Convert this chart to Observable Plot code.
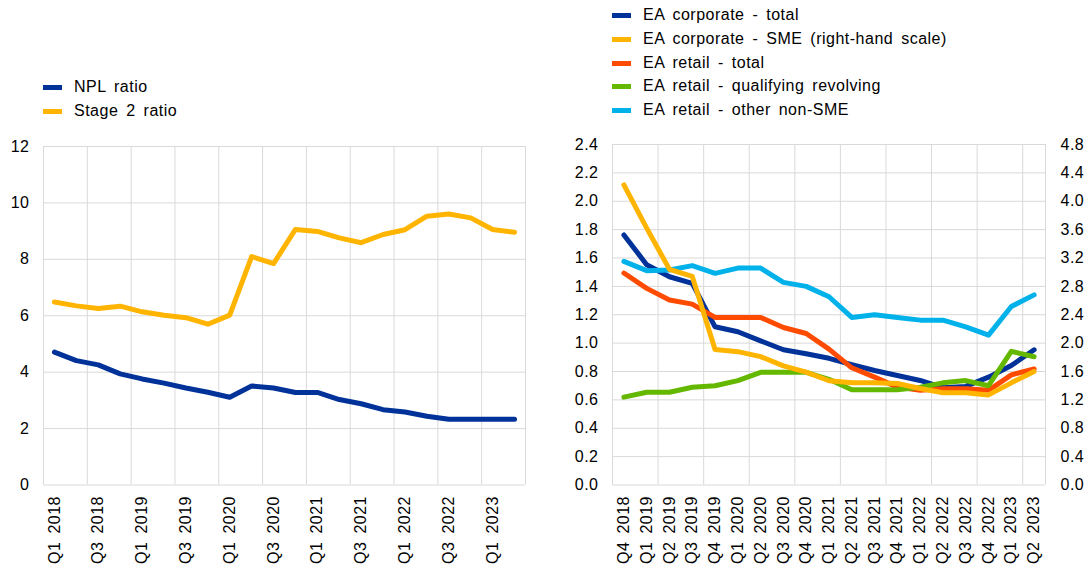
<!DOCTYPE html>
<html>
<head>
<meta charset="utf-8">
<script src="https://cdn.jsdelivr.net/npm/d3@7"></script>
<script src="https://cdn.jsdelivr.net/npm/@observablehq/plot@0.6"></script>
<style>
  html, body { margin: 0; padding: 0; background: #fff; }
  #root { position: relative; width: 1089px; height: 567px; overflow: hidden; font-family: "Liberation Sans", Arial, sans-serif; }
  .panel { position: absolute; top: 0; }
  .legend { position: absolute; font-size: 16px; letter-spacing: 0.5px; word-spacing: 3px; color: #000; }
  .legend .row { position: absolute; left: 0; white-space: nowrap; height: 20px; line-height: 20px; }
  .legend .sw { position: absolute; left: 0; top: 8px; width: 19px; height: 5px; }
  .legend .tx { position: absolute; left: 31px; top: 0; }
</style>
</head>
<body>
<div id="root">
  <div id="left" class="panel" style="left:0px"></div>
  <div id="right" class="panel" style="left:545px"></div>
  <div id="legL" class="legend" style="left:43px; top:77px"></div>
  <div id="legR" class="legend" style="left:612px; top:5px"></div>
</div>
<script>
// ---------- Left panel data ----------
const leftLabels = ["Q1 2018","Q2 2018","Q3 2018","Q4 2018","Q1 2019","Q2 2019","Q3 2019","Q4 2019",
  "Q1 2020","Q2 2020","Q3 2020","Q4 2020","Q1 2021","Q2 2021","Q3 2021","Q4 2021",
  "Q1 2022","Q2 2022","Q3 2022","Q4 2022","Q1 2023","Q2 2023"];
const nplRatio = [4.71,4.41,4.26,3.94,3.76,3.61,3.44,3.29,3.11,3.51,3.44,3.28,3.28,3.03,2.88,2.67,2.59,2.44,2.33,2.33,2.33,2.33];
const stage2Ratio = [6.49,6.35,6.26,6.34,6.14,6.02,5.93,5.70,6.02,8.10,7.85,9.06,8.99,8.76,8.59,8.88,9.05,9.53,9.61,9.47,9.06,8.96];
const leftYTicks = [0,2,4,6,8,10,12];
const leftXTickIdx = [0,2,4,6,8,10,12,14,16,18,20];

// ---------- Right panel data ----------
const rightLabels = ["Q4 2018","Q1 2019","Q2 2019","Q3 2019","Q4 2019","Q1 2020","Q2 2020","Q3 2020","Q4 2020",
  "Q1 2021","Q2 2021","Q3 2021","Q4 2021","Q1 2022","Q2 2022","Q3 2022","Q4 2022","Q1 2023","Q2 2023"];
const corporateTotal = [1.762,1.553,1.468,1.421,1.115,1.080,1.016,0.953,0.925,0.893,0.849,0.807,0.772,0.737,0.686,0.695,0.760,0.842,0.953];
const corporateSME = [4.23,3.62,3.04,2.94,1.91,1.88,1.81,1.68,1.59,1.47,1.44,1.44,1.43,1.36,1.30,1.30,1.27,1.44,1.60]; // right-hand scale
const retailTotal = [1.494,1.386,1.304,1.275,1.181,1.181,1.181,1.110,1.068,0.958,0.826,0.760,0.690,0.667,0.678,0.678,0.667,0.776,0.818];
const retailQRRE = [0.619,0.654,0.654,0.689,0.700,0.736,0.794,0.794,0.794,0.745,0.671,0.671,0.671,0.689,0.720,0.736,0.700,0.942,0.904];
const retailOtherNonSME = [1.576,1.511,1.515,1.546,1.492,1.529,1.529,1.428,1.400,1.327,1.181,1.200,1.181,1.162,1.162,1.115,1.056,1.258,1.340];
const rightYTicks = [0,0.2,0.4,0.6,0.8,1.0,1.2,1.4,1.6,1.8,2.0,2.2,2.4];
const rightAxisRatio = 2; // right-hand scale = 2 x left-hand scale

const colors = {
  blue: "#003299", yellow: "#FFB400", orange: "#FF4B00", green: "#65B800", cyan: "#00B1EA"
};

const baseStyle = {
  fontFamily: '"Liberation Sans", Arial, sans-serif',
  fontSize: "16px",
  letterSpacing: "0.5px",
  wordSpacing: "3px",
  color: "#000",
  background: "transparent",
  overflow: "visible"
};
const grid = "#d9d9d9";
const lineOpts = {strokeWidth: 5, strokeLinejoin: "round", strokeLinecap: "round"};

// gridline positions at category boundaries (every 2 categories)
const leftGridX = d3.range(-0.5, leftLabels.length, 2);
const rightGridX = d3.range(-0.5, rightLabels.length, 2).concat([rightLabels.length - 0.5]);

const leftChart = Plot.plot({
  width: 545, height: 567,
  marginLeft: 43, marginRight: 20, marginTop: 146, marginBottom: 82.5,
  x: {type: "linear", domain: [-0.5, leftLabels.length - 0.5]},
  y: {domain: [0, 12]},
  style: baseStyle,
  marks: [
    Plot.ruleY(leftYTicks, {stroke: grid, strokeWidth: 1}),
    Plot.ruleX(leftGridX, {stroke: grid, strokeWidth: 1}),
    Plot.axisY({ticks: leftYTicks, tickSize: 0, tickPadding: 14, label: null}),
    Plot.axisX({ticks: leftXTickIdx, tickFormat: i => leftLabels[i], tickRotate: -90, tickSize: 0, tickPadding: 11, label: null}),
    Plot.line(stage2Ratio, {x: (d, i) => i, y: d => d, stroke: colors.yellow, ...lineOpts}),
    Plot.line(nplRatio, {x: (d, i) => i, y: d => d, stroke: colors.blue, ...lineOpts})
  ]
});
document.getElementById("left").appendChild(leftChart);

const rightChart = Plot.plot({
  width: 544, height: 567,
  marginLeft: 67, marginRight: 44, marginTop: 144, marginBottom: 82.5,
  x: {type: "linear", domain: [-0.5, rightLabels.length - 0.5]},
  y: {domain: [0, 2.4]},
  style: baseStyle,
  marks: [
    Plot.ruleY(rightYTicks, {stroke: grid, strokeWidth: 1}),
    Plot.ruleX(rightGridX, {stroke: grid, strokeWidth: 1}),
    Plot.axisY({ticks: rightYTicks, tickSize: 0, tickPadding: 14, tickFormat: d => d.toFixed(1), label: null}),
    Plot.axisY({anchor: "right", ticks: rightYTicks, tickSize: 0, tickPadding: 15, tickFormat: d => (d * rightAxisRatio).toFixed(1), label: null}),
    Plot.axisX({ticks: d3.range(rightLabels.length), tickFormat: i => rightLabels[i], tickRotate: -90, tickSize: 0, tickPadding: 11, label: null}),
    Plot.line(corporateTotal, {x: (d, i) => i, y: d => d, stroke: colors.blue, ...lineOpts}),
    Plot.line(retailTotal, {x: (d, i) => i, y: d => d, stroke: colors.orange, ...lineOpts}),
    Plot.line(retailQRRE, {x: (d, i) => i, y: d => d, stroke: colors.green, ...lineOpts}),
    Plot.line(retailOtherNonSME, {x: (d, i) => i, y: d => d, stroke: colors.cyan, ...lineOpts}),
    Plot.line(corporateSME, {x: (d, i) => i, y: d => d / rightAxisRatio, stroke: colors.yellow, ...lineOpts})
  ]
});
document.getElementById("right").appendChild(rightChart);

// ---------- Legends ----------
const leftLegend = [
  {label: "NPL ratio", color: colors.blue},
  {label: "Stage 2 ratio", color: colors.yellow}
];
const rightLegend = [
  {label: "EA corporate - total", color: colors.blue},
  {label: "EA corporate - SME (right-hand scale)", color: colors.yellow},
  {label: "EA retail - total", color: colors.orange},
  {label: "EA retail - qualifying revolving", color: colors.green},
  {label: "EA retail - other non-SME", color: colors.cyan}
];
function buildLegend(el, items, step) {
  items.forEach((it, k) => {
    const row = document.createElement("div");
    row.className = "row";
    row.style.top = (k * step) + "px";
    const sw = document.createElement("span");
    sw.className = "sw";
    sw.style.background = it.color;
    const tx = document.createElement("span");
    tx.className = "tx";
    tx.textContent = it.label;
    row.appendChild(sw); row.appendChild(tx);
    el.appendChild(row);
  });
}
buildLegend(document.getElementById("legL"), leftLegend, 23.5);
buildLegend(document.getElementById("legR"), rightLegend, 23.8);
</script>
</body>
</html>
